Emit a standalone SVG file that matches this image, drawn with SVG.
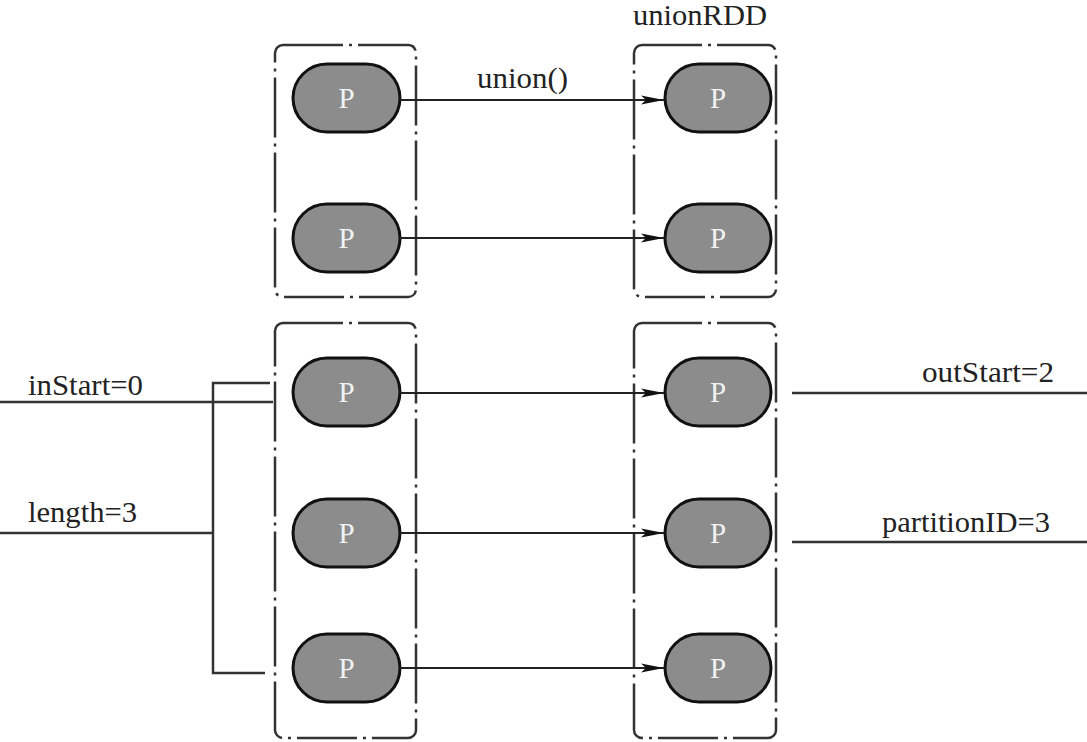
<svg xmlns="http://www.w3.org/2000/svg" width="1087" height="742" viewBox="0 0 1087 742">
<style>
  .box { fill: none; stroke: #333; stroke-width: 2.5; stroke-dasharray: 60 6 3 6; }
  .pill { fill: #8c8c8c; stroke: #111; stroke-width: 3; }
  .pl { font-family: "Liberation Serif", serif; font-size: 29px; fill: #f2f2f2; text-anchor: middle; }
  .lbl { font-family: "Liberation Serif", serif; font-size: 29px; fill: #222; }
  .ln { fill: none; stroke: #333; stroke-width: 2.5; }
  .arr { fill: none; stroke: #222; stroke-width: 2; marker-end: url(#ah); }
</style>
<defs>
  <marker id="ah" markerWidth="24" markerHeight="10" refX="23" refY="5" orient="auto" markerUnits="userSpaceOnUse">
    <polygon points="0,0.5 23,5 0,9.5 5,5" fill="#111"/>
  </marker>
</defs>
<rect width="1087" height="742" fill="#fff"/>

<g id="container-src-top"><rect class="box" x="275" y="45" width="141" height="252" rx="8"/></g>
<g id="container-dst-top"><rect class="box" x="634" y="45" width="142" height="252" rx="8"/></g>
<g id="container-src-bottom"><rect class="box" x="275" y="323" width="141" height="415" rx="8"/></g>
<g id="container-dst-bottom"><rect class="box" x="634" y="323" width="142" height="415" rx="8"/></g>

<g id="src-p1"><rect class="pill" x="293" y="64" width="107" height="68" rx="34"/><text class="pl" x="346.5" y="108">P</text></g>
<g id="src-p2"><rect class="pill" x="293" y="204" width="107" height="68" rx="34"/><text class="pl" x="346.5" y="248">P</text></g>
<g id="src-p3"><rect class="pill" x="293" y="358" width="107" height="68" rx="34"/><text class="pl" x="346.5" y="402">P</text></g>
<g id="src-p4"><rect class="pill" x="293" y="499" width="107" height="68" rx="34"/><text class="pl" x="346.5" y="543">P</text></g>
<g id="src-p5"><rect class="pill" x="293" y="634" width="107" height="68" rx="34"/><text class="pl" x="346.5" y="678">P</text></g>

<g id="dst-p1"><rect class="pill" x="665" y="64" width="106" height="68" rx="34"/><text class="pl" x="718" y="108">P</text></g>
<g id="dst-p2"><rect class="pill" x="665" y="204" width="106" height="68" rx="34"/><text class="pl" x="718" y="248">P</text></g>
<g id="dst-p3"><rect class="pill" x="665" y="358" width="106" height="68" rx="34"/><text class="pl" x="718" y="402">P</text></g>
<g id="dst-p4"><rect class="pill" x="665" y="499" width="106" height="68" rx="34"/><text class="pl" x="718" y="543">P</text></g>
<g id="dst-p5"><rect class="pill" x="665" y="634" width="106" height="68" rx="34"/><text class="pl" x="718" y="678">P</text></g>

<g id="connectors">
  <path class="arr" d="M400,100 H664"/>
  <path class="arr" d="M400,238 H664"/>
  <path class="arr" d="M400,393 H664"/>
  <path class="arr" d="M400,533 H664"/>
  <path class="arr" d="M400,668 H664"/>
  <path class="ln" d="M270,383 H213 V673 H265"/>
  <path class="ln" d="M0,402 H273"/>
  <path class="ln" d="M0,533 H213"/>
  <path class="ln" d="M792,393 H1087"/>
  <path class="ln" d="M792,542 H1087"/>
</g>

<g id="labels">
  <text class="lbl" x="477" y="88" textLength="91" lengthAdjust="spacingAndGlyphs">union()</text>
  <text class="lbl" x="633" y="25" textLength="134" lengthAdjust="spacingAndGlyphs">unionRDD</text>
  <text class="lbl" x="28" y="395" textLength="115" lengthAdjust="spacingAndGlyphs">inStart=0</text>
  <text class="lbl" x="28" y="522" textLength="109" lengthAdjust="spacingAndGlyphs">length=3</text>
  <text class="lbl" x="922" y="382" textLength="132" lengthAdjust="spacingAndGlyphs">outStart=2</text>
  <text class="lbl" x="882" y="532" textLength="168" lengthAdjust="spacingAndGlyphs">partitionID=3</text>
</g>
</svg>
